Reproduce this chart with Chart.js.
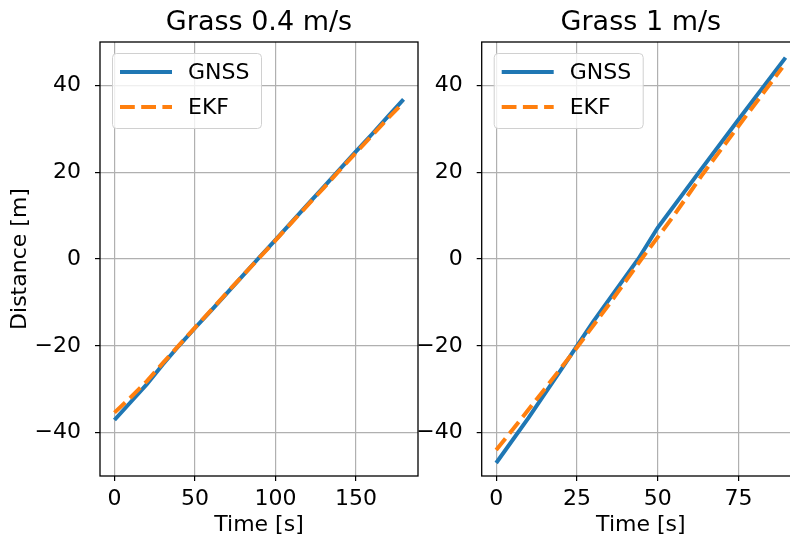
<!DOCTYPE html>
<html>
<head>
<meta charset="utf-8">
<script src="https://cdn.jsdelivr.net/npm/chart.js@4.4.1/dist/chart.umd.min.js"></script>
<style>
  html, body { margin: 0; padding: 0; background: #fff; overflow: hidden; }
  #wrap { position: relative; width: 790px; height: 540px; overflow: hidden; }
  canvas { position: absolute; top: 0; }
  #left { left: 0; }
  #right { left: 410px; }
</style>
</head>
<body>
<div id="wrap">
  <canvas id="left" width="430" height="540"></canvas>
  <canvas id="right" width="390" height="540"></canvas>
</div>
<script>
// values
const leftTime = [0, 10, 20, 30, 40, 50, 60, 70, 80, 90, 100, 110, 120, 130, 140, 150, 160, 170, 179.5];
const leftGnss = [-37.1, -33.0, -28.9, -24.3, -20.0, -15.9, -11.9, -7.8, -3.7, 0.4, 4.4, 8.5, 12.6, 16.6, 20.7, 24.8, 28.8, 32.9, 36.8];
const leftEkf = [-35.4, -31.9, -28.2, -24.0, -19.9, -15.8, -11.8, -7.7, -3.7, 0.3, 4.3, 8.4, 12.4, 16.4, 20.5, 24.5, 28.5, 32.5, 36.1];

const rightGnssTime = [0, 10, 20, 30, 44, 50, 63, 75, 89.6];
const rightGnss = [-47, -36.6, -25.6, -14.5, 0, 7.2, 20.2, 32.1, 46.4];
const rightEkfTime = [0, 5, 15, 25, 35, 45, 55, 64, 75, 88.6];
const rightEkf = [-44, -39.4, -30, -20.4, -10.4, 0, 10, 19.6, 30.6, 44.1];

const leftXTicks = [0, 50, 100, 150];
const rightXTicks = [0, 25, 50, 75];
const yTicks = [-40, -20, 0, 20, 40];

const titles = ["Grass 0.4 m/s", "Grass 1 m/s"];
const seriesNames = ["GNSS", "EKF"];
const xLabel = "Time [s]";
const yLabel = "Distance [m]";

const FONT = "DejaVu Sans";
Chart.defaults.font.family = FONT;
Chart.defaults.color = "#000";

function toPoints(xs, ys) {
  return xs.map((x, i) => ({ x: x, y: ys[i] }));
}

function fmt(v) {
  return v < 0 ? "\u2212" + Math.abs(v) : String(v);
}

function fixedTicks(list) {
  return function (s) {
    s.ticks = list.map((v) => ({ value: v }));
  };
}

// matplotlib style box round the axes
const spines = {
  id: "spines",
  afterDraw(chart) {
    const a = chart.chartArea, ctx = chart.ctx;
    ctx.save();
    ctx.strokeStyle = "#000";
    ctx.lineWidth = 1.3;
    ctx.strokeRect(a.left, a.top, a.right - a.left, a.bottom - a.top);
    ctx.restore();
  },
};

// legend in the upper left corner of the axes
const boxLegend = {
  id: "boxLegend",
  afterDatasetsDraw(chart) {
    const a = chart.chartArea, ctx = chart.ctx;
    const x = a.left + 12.5, y = a.top + 11.5;
    ctx.save();
    ctx.beginPath();
    ctx.roundRect(x, y, 149, 75, 4);
    ctx.fillStyle = "rgba(255,255,255,0.8)";
    ctx.fill();
    ctx.strokeStyle = "#d0d0d0";
    ctx.lineWidth = 1;
    ctx.stroke();
    chart.data.datasets.forEach((ds, i) => {
      const yy = a.top + 30 + i * 35;
      ctx.beginPath();
      ctx.setLineDash(ds.borderDash || []);
      ctx.strokeStyle = ds.borderColor;
      ctx.lineWidth = ds.borderWidth;
      ctx.moveTo(a.left + 20, yy);
      ctx.lineTo(a.left + 72, yy);
      ctx.stroke();
      ctx.setLineDash([]);
      ctx.fillStyle = "#000";
      ctx.font = "22px '" + FONT + "'";
      ctx.textBaseline = "middle";
      ctx.textAlign = "left";
      ctx.fillText(ds.label, a.left + 88, yy + 1);
    });
    ctx.restore();
  },
};

function makeChart(id, title, gnss, ekf, xr, xTicks, yWidth, showYTitle, padRight) {
  const ctx = document.getElementById(id).getContext("2d");
  return new Chart(ctx, {
    type: "line",
    data: {
      datasets: [
        {
          label: seriesNames[0],
          data: gnss,
          borderColor: "#1f77b4",
          borderWidth: 4,
          pointRadius: 0,
          order: 2,
        },
        {
          label: seriesNames[1],
          data: ekf,
          borderColor: "#ff7f0e",
          borderWidth: 4,
          borderDash: [14.8, 6.4],
          pointRadius: 0,
          order: 1,
        },
      ],
    },
    options: {
      responsive: false,
      animation: false,
      layout: { padding: { left: 0, right: padRight, top: 0, bottom: 0 } },
      plugins: {
        legend: { display: false },
        tooltip: { enabled: false },
        title: {
          display: true,
          text: title,
          fullSize: false,
          color: "#000",
          font: { size: 27, weight: "normal" },
          padding: { top: 7, bottom: 2.6 },
        },
      },
      scales: {
        x: {
          type: "linear",
          min: xr[0],
          max: xr[1],
          afterBuildTicks: fixedTicks(xTicks),
          afterFit(s) { s.height = 64; },
          border: { display: false },
          grid: { color: "#b0b0b0", lineWidth: 1.2, tickColor: "#000", tickLength: 5, tickWidth: 1.2 },
          ticks: { font: { size: 22 }, padding: 5, maxRotation: 0, callback: fmt },
          title: { display: true, text: xLabel, font: { size: 22 }, padding: { top: 0, bottom: 2 } },
        },
        y: {
          type: "linear",
          min: -50,
          max: 50,
          afterBuildTicks: fixedTicks(yTicks),
          afterFit(s) { s.width = yWidth; },
          border: { display: false },
          grid: { color: "#b0b0b0", lineWidth: 1.2, tickColor: "#000", tickLength: 5, tickWidth: 1.2 },
          ticks: { font: { size: 22 }, padding: 14, callback: fmt },
          title: { display: showYTitle, text: yLabel, font: { size: 22 }, padding: { top: 7, bottom: 0 } },
        },
      },
    },
    plugins: [spines, boxLegend],
  });
}

makeChart("left", titles[0], toPoints(leftTime, leftGnss), toPoints(leftTime, leftEkf),
  [-8.975, 188.475], leftXTicks, 100, true, 12);
makeChart("right", titles[1], toPoints(rightGnssTime, rightGnss), toPoints(rightEkfTime, rightEkf),
  [-4.48, 94.08], rightXTicks, 71.7, false, 0);
</script>
</body>
</html>
